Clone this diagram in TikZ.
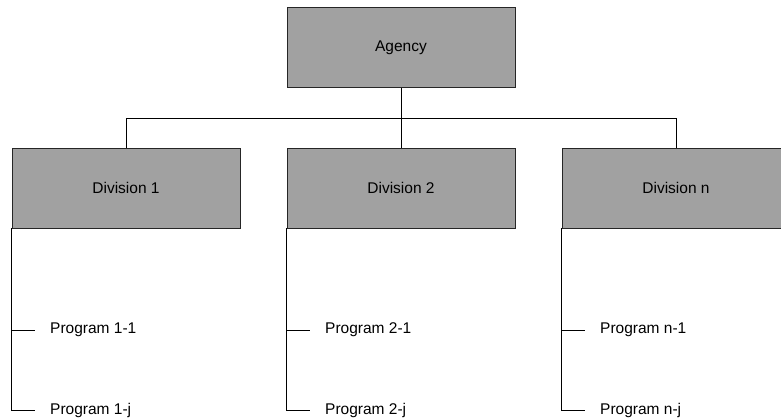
\documentclass[tikz,border=0pt]{standalone}
\usepackage{fontspec}
\setmainfont{Liberation Sans}
\usetikzlibrary{positioning}

\begin{document}
\begin{tikzpicture}[x=1pt,y=-1pt,
    unitbox/.style={draw=black!85,fill=black!37,line width=0.9pt,minimum width=228pt,minimum height=80pt,inner sep=0pt,font=\fontsize{15.5}{18}\selectfont},
    prog/.style={anchor=west,inner sep=0pt,font=\fontsize{15.5}{18}\selectfont},
    link/.style={draw=black,line width=0.9pt}]
              \useasboundingbox (0,0) rectangle (781,419);
              \node[unitbox](agency)at(401,47.5){Agency};
              \node[unitbox](div1)at(126,188){Division 1};
              \node[unitbox](div2)at(401,188){Division 2};
              \node[unitbox](divn)at(676,188){Division n};
              \coordinate(bus)at(401,118);
              \draw[link](agency.south)--(bus);
              \draw[link](div1.north)|-(divn.north|-bus)--(divn.north);
              \draw[link](div2.north)--(bus);
              % programs under each division
              \node[prog](p11)at(50,330){Program 1-1};
              \node[prog](p1j)at(50,410){Program 1-j};
              \node[prog](p21)at(325,330){Program 2-1};
              \node[prog](p2j)at(325,410){Program 2-j};
              \node[prog](pn1)at(600,330){Program n-1};
              \node[prog](pnj)at(600,410){Program n-j};
              \draw[link,shorten >=15pt](div1.south west)|-(p1j.west);
              \draw[link,shorten >=15pt](div1.south west|-p11.west)--(p11.west);
              \draw[link,shorten >=15pt](div2.south west)|-(p2j.west);
              \draw[link,shorten >=15pt](div2.south west|-p21.west)--(p21.west);
              \draw[link,shorten >=15pt](divn.south west)|-(pnj.west);
              \draw[link,shorten >=15pt](divn.south west|-pn1.west)--(pn1.west);
            \end{tikzpicture}
\end{document}
